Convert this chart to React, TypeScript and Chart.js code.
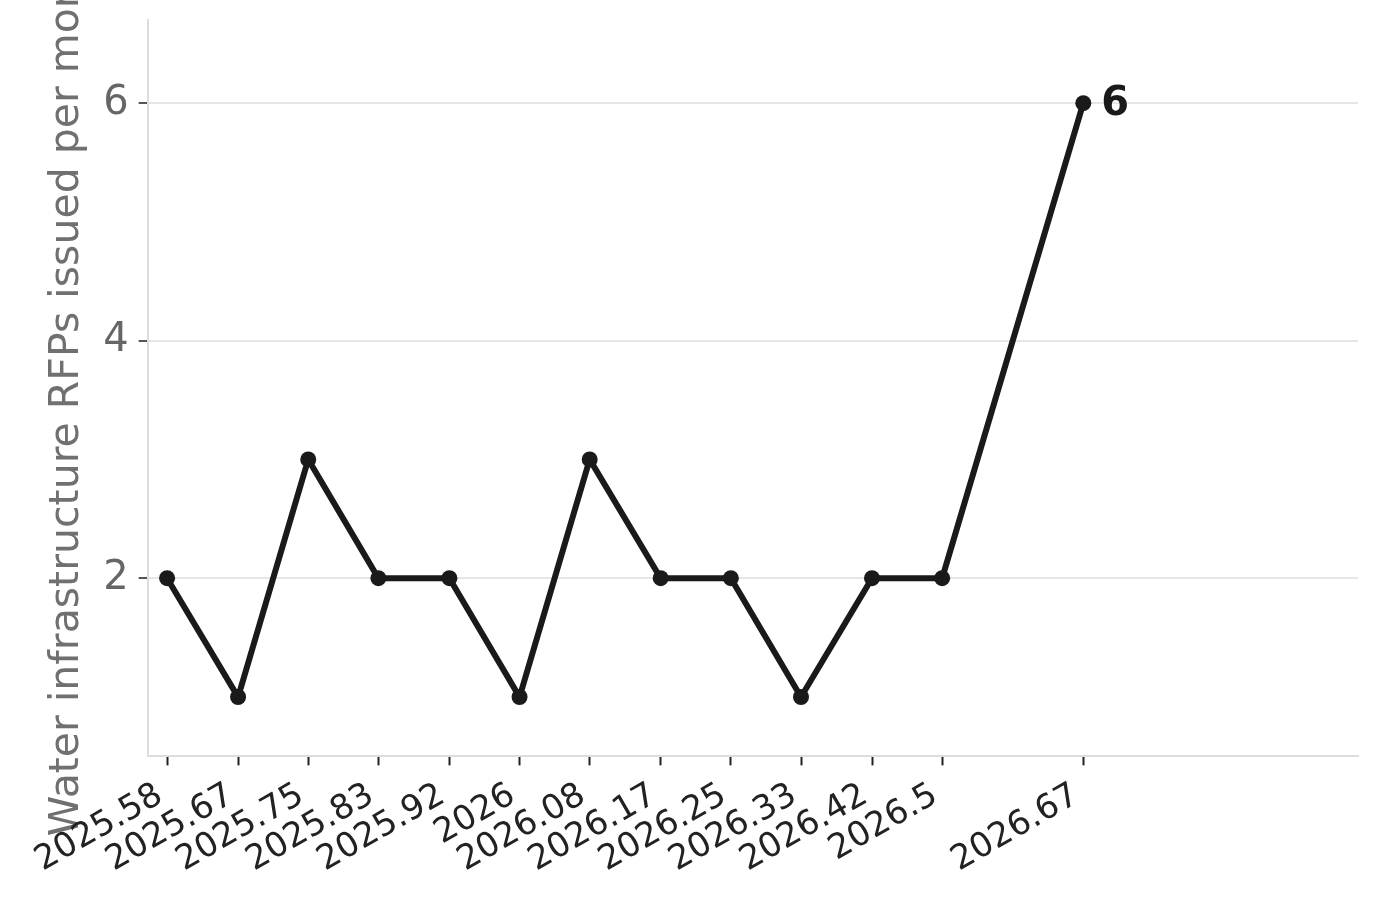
import React, { useEffect, useRef } from "react";
import { Chart, registerables } from "chart.js";

Chart.register(...registerables);

// months as fractional years
const xValues = [
  2025.583, 2025.667, 2025.75, 2025.833, 2025.917, 2026, 2026.083, 2026.167,
  2026.25, 2026.333, 2026.417, 2026.5, 2026.667,
];
const xLabels = [
  "2025.58", "2025.67", "2025.75", "2025.83", "2025.92", "2026", "2026.08",
  "2026.17", "2026.25", "2026.33", "2026.42", "2026.5", "2026.67",
];
const rfpCounts = [2, 1, 3, 2, 2, 1, 3, 2, 2, 1, 2, 2, 6];
const yTicks = [2, 4, 6];
const yTitle = "Water infrastructure RFPs issued per month";

const INK = "#1a1a1a";

// bold value label next to the last point
const lastValueLabel = {
  id: "lastValueLabel",
  afterDatasetsDraw(chart: Chart) {
    const meta = chart.getDatasetMeta(0);
    const i = rfpCounts.length - 1;
    const pt = meta.data[i];
    if (!pt) return;
    const ctx = chart.ctx;
    ctx.save();
    ctx.font = "bold 40px 'DejaVu Sans'";
    ctx.fillStyle = INK;
    ctx.textAlign = "left";
    ctx.textBaseline = "middle";
    ctx.fillText(String(rfpCounts[i]), pt.x + 18, pt.y + 1);
    ctx.restore();
  },
};

const App = () => {
  const chartRef = useRef<HTMLCanvasElement>(null);
  const chartInstanceRef = useRef<Chart | null>(null);

  useEffect(() => {
    document.body.style.margin = "0";
    const ctx = chartRef.current?.getContext("2d");
    if (!ctx) return;

    if (chartInstanceRef.current) {
      chartInstanceRef.current.destroy();
    }

    Chart.defaults.font.family = "'DejaVu Sans'";

    chartInstanceRef.current = new Chart(ctx, {
      type: "line",
      data: {
        datasets: [
          {
            label: "RFPs",
            data: xValues.map((x, i) => ({ x, y: rfpCounts[i] })),
            borderColor: INK,
            backgroundColor: INK,
            borderWidth: 6,
            pointRadius: 8,
            pointBackgroundColor: INK,
            pointBorderColor: INK,
            pointBorderWidth: 0,
            tension: 0,
            fill: false,
          },
        ],
      },
      options: {
        responsive: false,
        animation: false,
        layout: { padding: { top: 0, right: 20, left: 43, bottom: 8 } },
        plugins: {
          legend: { display: false },
          tooltip: { enabled: false },
        },
        scales: {
          x: {
            type: "linear",
            min: 2025.56,
            max: 2026.992,
            afterBuildTicks: (axis) => {
              axis.ticks = xValues.map((v) => ({ value: v }));
            },
            ticks: {
              autoSkip: false,
              minRotation: 30,
              maxRotation: 30,
              padding: 10,
              labelOffset: -7,
              color: "#222",
              font: { size: 34 },
              callback: (_v, index) => xLabels[index],
            },
            grid: {
              drawOnChartArea: false,
              drawTicks: true,
              tickLength: 9,
              tickColor: "#222",
              tickWidth: 2,
            },
            border: { color: "#dddddd", width: 2 },
          },
          y: {
            type: "linear",
            min: 0.5,
            max: 6.7,
            afterBuildTicks: (axis) => {
              axis.ticks = yTicks.map((v) => ({ value: v }));
            },
            ticks: {
              color: "#666",
              font: { size: 40, lineHeight: 0.5 },
              padding: 10,
            },
            grid: {
              color: "#e6e6e6",
              lineWidth: 2,
              tickLength: 9,
              tickColor: "#555",
              tickWidth: 2,
            },
            border: { color: "#dddddd", width: 2 },
            title: {
              display: true,
              text: yTitle,
              color: "#707070",
              font: { size: 41 },
              padding: { top: 0, bottom: 1 },
            },
          },
        },
      },
      plugins: [lastValueLabel],
    });

    return () => {
      if (chartInstanceRef.current) {
        chartInstanceRef.current.destroy();
        chartInstanceRef.current = null;
      }
    };
  }, []);

  return <canvas ref={chartRef} width="1378" height="899"></canvas>;
};

export default App;
